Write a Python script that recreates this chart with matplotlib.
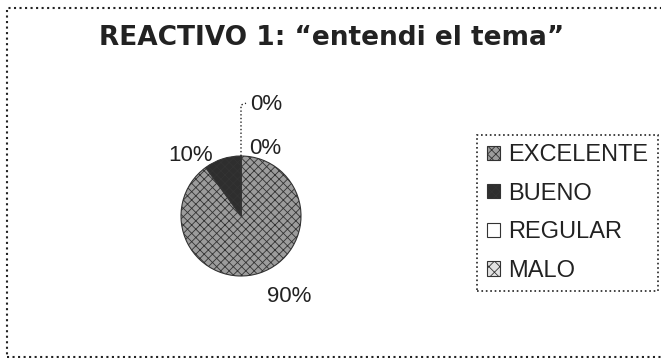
import numpy as np
import matplotlib
matplotlib.use('Agg')
import matplotlib.pyplot as plt
from matplotlib.patches import Rectangle

# data
categorias = ['EXCELENTE', 'BUENO', 'REGULAR', 'MALO']
porcentajes = [90, 10, 0, 0]
titulo = 'REACTIVO 1: \u201centendi el tema\u201d'

colores = ['#9c9c9c', '#2e2e2e', '#ffffff', '#e2e2e2']
tramas = ['xxxx', 'xxxx', '', 'xxx']

plt.rcParams['font.family'] = ['Liberation Sans', 'DejaVu Sans']
plt.rcParams['hatch.linewidth'] = 0.6

W, H = 661, 358
fig = plt.figure(figsize=(W / 100, H / 100), dpi=100)
ax = fig.add_axes([0, 0, 1, 1])

cx, cy, r = 241, H - 216, 60
wedges, _ = ax.pie(porcentajes, center=(cx, cy), radius=r, startangle=90,
                   counterclock=False, colors=colores,
                   wedgeprops=dict(edgecolor='#333333', linewidth=0.8))
for w, h in zip(wedges, tramas):
    w.set_hatch(h)
ax.set_xlim(0, W)
ax.set_ylim(0, H)
ax.set_aspect('equal')
ax.axis('off')

# percentage labels: (angle in degrees, distance in radii)
etiquetas = [(-59, 1.57), (130, 1.32), (70, 1.2), (77, 1.9)]
for p, (ang, d) in zip(porcentajes, etiquetas):
    a = np.radians(ang)
    ax.text(cx + d * r * np.cos(a), cy + d * r * np.sin(a), f'{p}%',
            ha='center', va='center', fontsize=16, color='#222222')

# leader line for the last 0% label
t = np.radians(wedges[3].theta1)
ax.plot([cx + r * np.cos(t), cx + 1.85 * r * np.cos(t), cx + 1.85 * r * np.cos(t) + 5],
        [cy + r * np.sin(t), cy + 1.85 * r * np.sin(t), cy + 1.88 * r * np.sin(t)],
        color='#222222', lw=1, ls=':')

ax.text(332, H - 38, titulo, ha='center', va='center', fontsize=19,
        fontweight='bold', family='DejaVu Sans', color='#222222')

leg = ax.legend(wedges, categorias, loc='center',
                bbox_to_anchor=(478 / W, 1 - 293 / H, (657 - 478) / W, (293 - 133) / H),
                fontsize=17, handlelength=0.55, handleheight=0.55, handletextpad=0.35,
                labelspacing=0.7, borderpad=0.4, borderaxespad=0, fancybox=False,
                framealpha=1, edgecolor='#222222')
leg.get_frame().set_linestyle(':')
leg.get_frame().set_linewidth(1.2)
for txt in leg.get_texts():
    txt.set_color('#222222')

# chart border
ax.add_patch(Rectangle((7, 1), W, H - 9, fill=False, ls=':', lw=1.5,
                       edgecolor='#222222', clip_on=True))

fig.savefig('out.png', dpi=100)
